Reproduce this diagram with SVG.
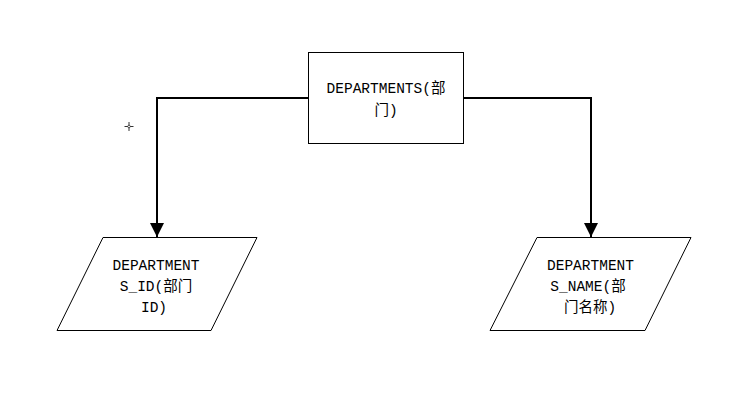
<svg xmlns="http://www.w3.org/2000/svg" width="731" height="404" viewBox="0 0 731 404">
<style>
.shape{fill:#fff;stroke:#000;stroke-width:1}
.conn{fill:none;stroke:#000;stroke-width:2}
.t{font-family:"Liberation Mono","Noto Sans CJK SC",monospace;font-size:14.5px;fill:#000;text-anchor:middle}
</style>
<defs>
<marker id="arr" viewBox="0 0 14 14" refX="14" refY="7" markerWidth="14" markerHeight="14" markerUnits="userSpaceOnUse" orient="auto">
<path d="M0,0 L14,7 L0,14 Z" fill="#000"/>
</marker>
</defs>
<rect width="731" height="404" fill="#fff"/>
<g id="connectors">
<path class="conn" d="M308,98 H157 V237" marker-end="url(#arr)"/>
<path class="conn" d="M463,98 H591 V237" marker-end="url(#arr)"/>
</g>
<g id="departments">
<rect class="shape" x="308.5" y="52.5" width="155" height="91"/>
<text class="t" x="386" y="93">DEPARTMENTS(部</text>
<text class="t" x="386" y="115">门)</text>
</g>
<g id="departments_id">
<polygon class="shape" points="103,237.5 257,237.5 211,330.5 57,330.5"/>
<text class="t" x="156" y="270">DEPARTMENT</text>
<text class="t" x="156" y="291">S_ID(部门</text>
<text class="t" x="154" y="312">ID)</text>
</g>
<g id="departments_name">
<polygon class="shape" points="537,237.5 691,237.5 645,330.5 490,330.5"/>
<text class="t" x="590.5" y="270">DEPARTMENT</text>
<text class="t" x="588" y="291">S_NAME(部</text>
<text class="t" x="590" y="312">门名称)</text>
</g>
<g id="crosshair">
<path d="M124.5,126.5 H133.5 M129,122 V131" stroke="#000" stroke-width="0.8" fill="none"/>
<circle cx="129" cy="126.5" r="1.3" fill="#fff" stroke="#000" stroke-width="0.6"/>
</g>
</svg>
